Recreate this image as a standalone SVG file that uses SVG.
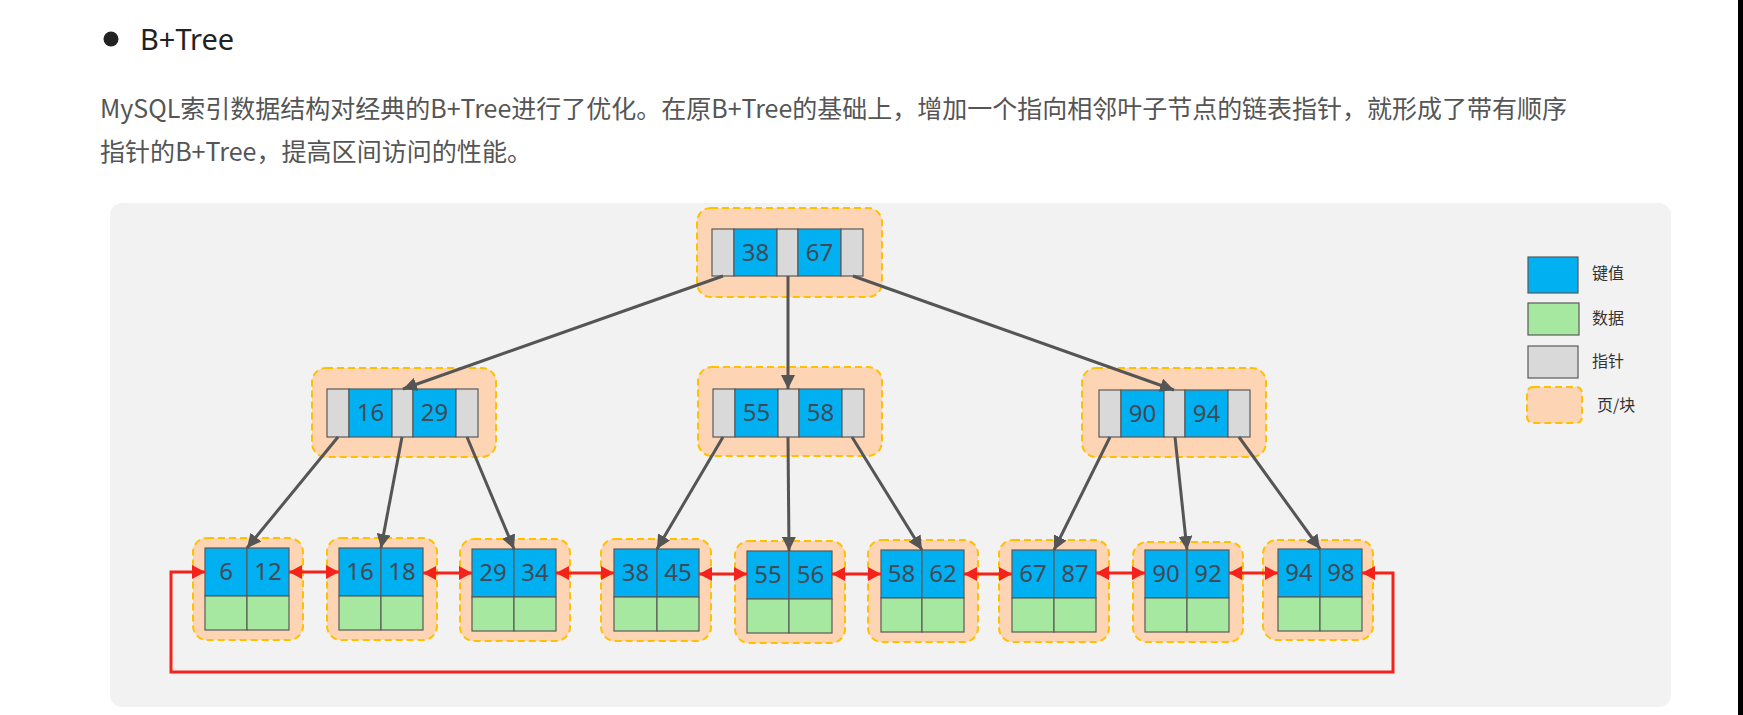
<svg xmlns="http://www.w3.org/2000/svg" width="1743" height="715" viewBox="0 0 1743 715">
<style>
.page{fill:#fdd5b4;stroke:#ffc000;stroke-width:2;stroke-dasharray:7 4}
.key{fill:#00b0f0;stroke:#5a5a5a;stroke-width:1.2}
.dat{fill:#a6e8a0;stroke:#5a5a5a;stroke-width:1.2}
.ptr{fill:#d9d9d9;stroke:#5a5a5a;stroke-width:1.2}
.num{font-family:"Noto Sans","Open Sans",sans-serif;font-size:24px;fill:#3e4a57;text-anchor:middle}
.edge{stroke:#555555;stroke-width:3;fill:none;marker-end:url(#ah)}
.link{stroke:#f5221b;stroke-width:3;fill:none}
.lg{font-family:"Noto Sans CJK SC","Noto Sans",sans-serif;font-size:16px;fill:#333333}
.para{font-family:"Noto Sans CJK SC","Noto Sans",sans-serif;font-size:25px;fill:#555555}
</style>
<defs>
<marker id="ah" markerUnits="userSpaceOnUse" markerWidth="16" markerHeight="14" refX="14" refY="7" orient="auto">
<path d="M0,0 L14,7 L0,14 Z" fill="#555555"/>
</marker>
<marker id="ra" markerUnits="userSpaceOnUse" markerWidth="14" markerHeight="14" refX="13" refY="7" orient="auto">
<path d="M0,0 L13,7 L0,14 Z" fill="#f5221b"/>
</marker>
<marker id="rs" markerUnits="userSpaceOnUse" markerWidth="14" markerHeight="14" refX="1" refY="7" orient="auto">
<path d="M14,0 L1,7 L14,14 Z" fill="#f5221b"/>
</marker>
</defs>
<rect x="0" y="0" width="1743" height="715" fill="#ffffff"/>
<rect x="1738" y="0" width="5" height="715" fill="#000000"/>
<g id="header">
<circle cx="111" cy="39" r="7.5" fill="#222222"/>
<text x="140" y="50" font-family="Noto Sans,Open Sans,sans-serif" font-size="29" fill="#222222">B+Tree</text>
<text class="para" x="100" y="118" textLength="1467" lengthAdjust="spacingAndGlyphs">MySQL索引数据结构对经典的B+Tree进行了优化。在原B+Tree的基础上，增加一个指向相邻叶子节点的链表指针，就形成了带有顺序</text>
<text class="para" x="100" y="161" textLength="432" lengthAdjust="spacingAndGlyphs">指针的B+Tree，提高区间访问的性能。</text>
</g>
<rect x="110" y="203" width="1561" height="504" rx="12" fill="#f2f2f2"/>

<g id="root">
<rect class="page" x="697" y="208" width="185" height="89" rx="14"/>
<rect class="ptr" x="712" y="229" width="22" height="47"/>
<rect class="key" x="734" y="229" width="43" height="47"/>
<rect class="ptr" x="777" y="229" width="21" height="47"/>
<rect class="key" x="798" y="229" width="43" height="47"/>
<rect class="ptr" x="841" y="229" width="22" height="47"/>
<text class="num" x="755.5" y="261">38</text>
<text class="num" x="819.5" y="261">67</text>
</g>

<g id="n16_29">
<rect class="page" x="312" y="368" width="184" height="89" rx="14"/>
<rect class="ptr" x="327" y="389" width="22" height="48"/>
<rect class="key" x="349" y="389" width="43" height="48"/>
<rect class="ptr" x="392" y="389" width="21" height="48"/>
<rect class="key" x="413" y="389" width="43" height="48"/>
<rect class="ptr" x="456" y="389" width="22" height="48"/>
<text class="num" x="370.5" y="421">16</text>
<text class="num" x="434.5" y="421">29</text>
</g>

<g id="n55_58">
<rect class="page" x="698" y="367" width="184" height="89" rx="14"/>
<rect class="ptr" x="713" y="389" width="22" height="48"/>
<rect class="key" x="735" y="389" width="43" height="48"/>
<rect class="ptr" x="778" y="389" width="21" height="48"/>
<rect class="key" x="799" y="389" width="43" height="48"/>
<rect class="ptr" x="842" y="389" width="22" height="48"/>
<text class="num" x="756.5" y="421">55</text>
<text class="num" x="820.5" y="421">58</text>
</g>

<g id="n90_94">
<rect class="page" x="1082" y="368" width="184" height="89" rx="14"/>
<rect class="ptr" x="1099" y="390" width="22" height="47"/>
<rect class="key" x="1121" y="390" width="43" height="47"/>
<rect class="ptr" x="1164" y="390" width="21" height="47"/>
<rect class="key" x="1185" y="390" width="43" height="47"/>
<rect class="ptr" x="1228" y="390" width="22" height="47"/>
<text class="num" x="1142.5" y="422">90</text>
<text class="num" x="1206.5" y="422">94</text>
</g>

<g id="leaf1"><rect class="page" x="193" y="538" width="110" height="102" rx="14"/><rect class="key" x="205" y="548" width="42" height="48"/><rect class="key" x="247" y="548" width="42" height="48"/><rect class="dat" x="205" y="596" width="42" height="34"/><rect class="dat" x="247" y="596" width="42" height="34"/><text class="num" x="226" y="580">6</text><text class="num" x="268" y="580">12</text></g>
<g id="leaf2"><rect class="page" x="327" y="538" width="110" height="102" rx="14"/><rect class="key" x="339" y="548" width="42" height="48"/><rect class="key" x="381" y="548" width="42" height="48"/><rect class="dat" x="339" y="596" width="42" height="34"/><rect class="dat" x="381" y="596" width="42" height="34"/><text class="num" x="360" y="580">16</text><text class="num" x="402" y="580">18</text></g>
<g id="leaf3"><rect class="page" x="460" y="539" width="110" height="102" rx="14"/><rect class="key" x="472" y="549" width="42" height="48"/><rect class="key" x="514" y="549" width="42" height="48"/><rect class="dat" x="472" y="597" width="42" height="34"/><rect class="dat" x="514" y="597" width="42" height="34"/><text class="num" x="493" y="581">29</text><text class="num" x="535" y="581">34</text></g>
<g id="leaf4"><rect class="page" x="601" y="539" width="110" height="102" rx="14"/><rect class="key" x="614" y="549" width="43" height="48"/><rect class="key" x="657" y="549" width="42" height="48"/><rect class="dat" x="614" y="597" width="43" height="34"/><rect class="dat" x="657" y="597" width="42" height="34"/><text class="num" x="635.5" y="581">38</text><text class="num" x="678" y="581">45</text></g>
<g id="leaf5"><rect class="page" x="735" y="541" width="110" height="102" rx="14"/><rect class="key" x="747" y="551" width="42" height="48"/><rect class="key" x="789" y="551" width="43" height="48"/><rect class="dat" x="747" y="599" width="42" height="34"/><rect class="dat" x="789" y="599" width="43" height="34"/><text class="num" x="768" y="583">55</text><text class="num" x="810.5" y="583">56</text></g>
<g id="leaf6"><rect class="page" x="868" y="540" width="110" height="102" rx="14"/><rect class="key" x="881" y="550" width="41" height="48"/><rect class="key" x="922" y="550" width="42" height="48"/><rect class="dat" x="881" y="598" width="41" height="34"/><rect class="dat" x="922" y="598" width="42" height="34"/><text class="num" x="901.5" y="582">58</text><text class="num" x="943" y="582">62</text></g>
<g id="leaf7"><rect class="page" x="999" y="540" width="110" height="102" rx="14"/><rect class="key" x="1012" y="550" width="42" height="48"/><rect class="key" x="1054" y="550" width="42" height="48"/><rect class="dat" x="1012" y="598" width="42" height="34"/><rect class="dat" x="1054" y="598" width="42" height="34"/><text class="num" x="1033" y="582">67</text><text class="num" x="1075" y="582">87</text></g>
<g id="leaf8"><rect class="page" x="1133" y="542" width="110" height="100" rx="14"/><rect class="key" x="1145" y="550" width="42" height="48"/><rect class="key" x="1187" y="550" width="42" height="48"/><rect class="dat" x="1145" y="598" width="42" height="34"/><rect class="dat" x="1187" y="598" width="42" height="34"/><text class="num" x="1166" y="582">90</text><text class="num" x="1208" y="582">92</text></g>
<g id="leaf9"><rect class="page" x="1263" y="540" width="110" height="100" rx="14"/><rect class="key" x="1278" y="549" width="42" height="48"/><rect class="key" x="1320" y="549" width="42" height="48"/><rect class="dat" x="1278" y="597" width="42" height="34"/><rect class="dat" x="1320" y="597" width="42" height="34"/><text class="num" x="1299" y="581">94</text><text class="num" x="1341" y="581">98</text></g>

<g id="connectors">
<line class="edge" x1="723" y1="276" x2="403" y2="389"/>
<line class="edge" x1="788" y1="276" x2="788" y2="389"/>
<line class="edge" x1="853" y1="276" x2="1174" y2="390"/>
<line class="edge" x1="338" y1="437" x2="247" y2="548"/>
<line class="edge" x1="402" y1="437" x2="381" y2="548"/>
<line class="edge" x1="467" y1="437" x2="514" y2="549"/>
<line class="edge" x1="723" y1="437" x2="657" y2="549"/>
<line class="edge" x1="788" y1="437" x2="789" y2="551"/>
<line class="edge" x1="852" y1="437" x2="922" y2="550"/>
<line class="edge" x1="1110" y1="437" x2="1054" y2="550"/>
<line class="edge" x1="1175" y1="437" x2="1187" y2="550"/>
<line class="edge" x1="1239" y1="437" x2="1320" y2="549"/>
<line class="link" x1="289" y1="572" x2="339" y2="572" marker-start="url(#rs)" marker-end="url(#ra)"/>
<line class="link" x1="423" y1="573" x2="472" y2="573" marker-start="url(#rs)" marker-end="url(#ra)"/>
<line class="link" x1="556" y1="573" x2="614" y2="573" marker-start="url(#rs)" marker-end="url(#ra)"/>
<line class="link" x1="699" y1="574" x2="747" y2="574" marker-start="url(#rs)" marker-end="url(#ra)"/>
<line class="link" x1="832" y1="574" x2="881" y2="574" marker-start="url(#rs)" marker-end="url(#ra)"/>
<line class="link" x1="964" y1="574" x2="1012" y2="574" marker-start="url(#rs)" marker-end="url(#ra)"/>
<line class="link" x1="1096" y1="573" x2="1145" y2="573" marker-start="url(#rs)" marker-end="url(#ra)"/>
<line class="link" x1="1229" y1="573" x2="1278" y2="573" marker-start="url(#rs)" marker-end="url(#ra)"/>
<polyline class="link" points="1362,573 1393,573 1393,672 171,672 171,572 205,572" marker-start="url(#rs)" marker-end="url(#ra)"/>
</g>

<g id="legend">
<rect class="key" x="1528" y="257" width="50" height="36"/>
<text class="lg" x="1592" y="279">键值</text>
<rect class="dat" x="1528" y="303" width="51" height="32"/>
<text class="lg" x="1592" y="324">数据</text>
<rect class="ptr" x="1528" y="346" width="50" height="32"/>
<text class="lg" x="1592" y="367">指针</text>
<rect class="page" x="1527" y="387" width="55" height="36" rx="6"/>
<text class="lg" x="1597" y="411">页/块</text>
</g>
</svg>
